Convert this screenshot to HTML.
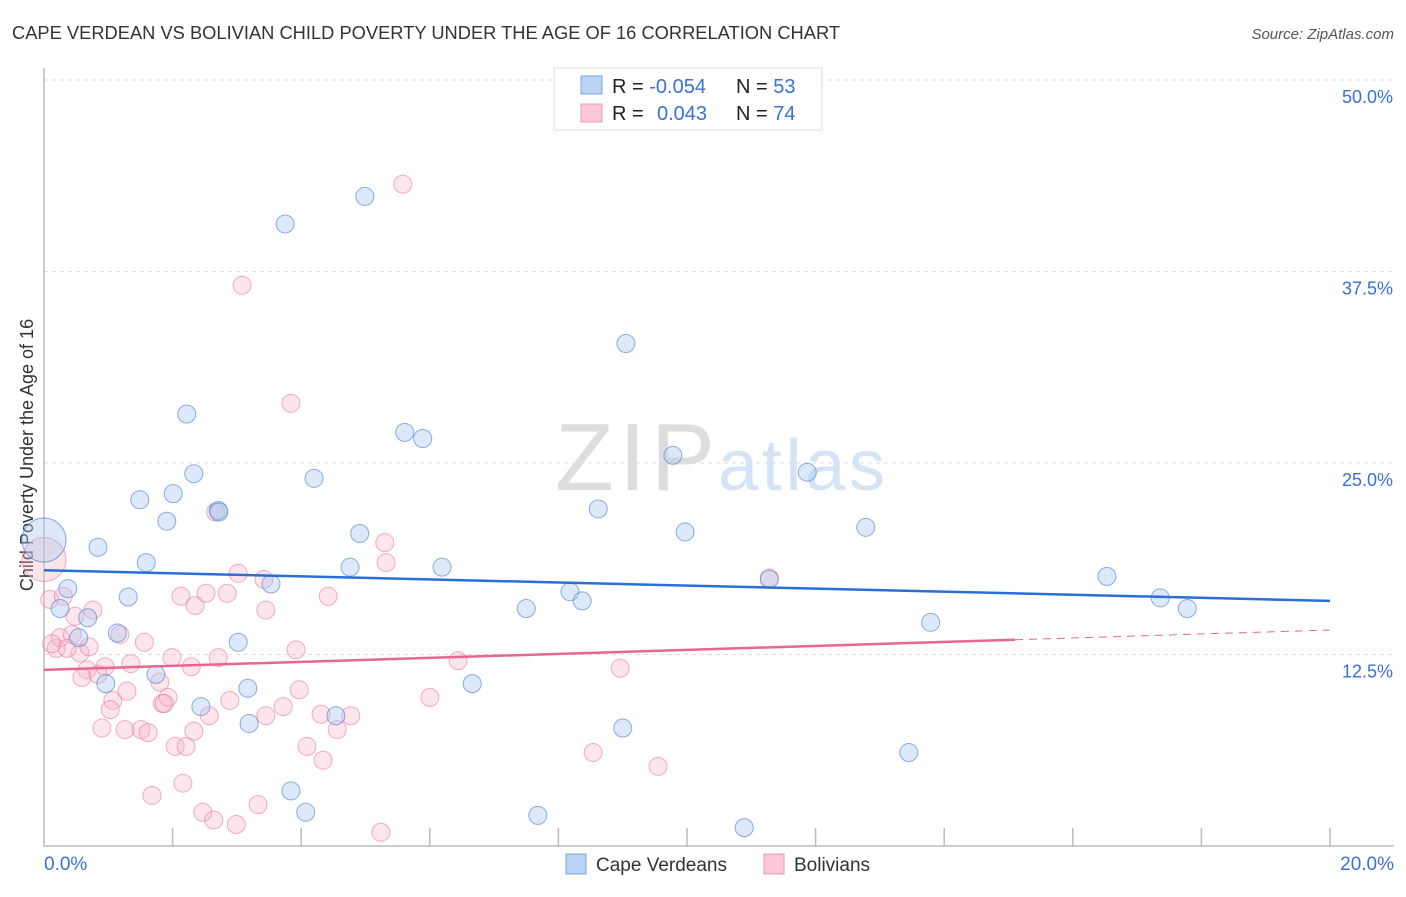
<!DOCTYPE html>
<html><head><meta charset="utf-8"><style>
body{margin:0;background:#fff;font-family:"Liberation Sans",sans-serif;}
svg text{font-family:"Liberation Sans",sans-serif;}
</style></head><body>
<svg id="c" width="1406" height="892">
<text x="12" y="39" font-size="18.3" fill="#333" textLength="828">CAPE VERDEAN VS BOLIVIAN CHILD POVERTY UNDER THE AGE OF 16 CORRELATION CHART</text>
<text x="1394" y="39" font-size="15" fill="#555" font-style="italic" text-anchor="end">Source: ZipAtlas.com</text>
<text x="555" y="490" font-size="96" fill="#ddd" font-family="Liberation Serif" textLength="160">ZIP</text>
<text x="718" y="490" font-size="72" fill="#d4e3f5" textLength="167">atlas</text>
<text transform="translate(33,455) rotate(-90)" font-size="18" fill="#333" text-anchor="middle">Child Poverty Under the Age of 16</text>
<g id="grid"></g><g id="marks"></g>
<g>
<rect x="554" y="68" width="268" height="62" fill="#fff" stroke="#ddd"/>
<rect x="581" y="76" width="21" height="18" fill="#b9d3f5" stroke="#7aa6e6"/>
<rect x="581" y="104" width="21" height="18" fill="#fbc9d8" stroke="#ee9ab5"/>
<text x="612" y="93" font-size="20" fill="#222">R = <tspan fill="#3a72d4">-0.054</tspan><tspan x="736">N = </tspan><tspan fill="#3a72d4">53</tspan></text>
<text x="612" y="120" font-size="20" fill="#222">R = <tspan x="657" fill="#3a72d4">0.043</tspan><tspan x="736">N = </tspan><tspan fill="#3a72d4">74</tspan></text>
</g>
<g>
<rect x="566" y="854" width="20" height="20" fill="#b9d3f5" stroke="#7aa6e6"/>
<text x="596" y="871" font-size="19" fill="#333">Cape Verdeans</text>
<rect x="764" y="854" width="20" height="20" fill="#fbc9d8" stroke="#ee9ab5"/>
<text x="794" y="871" font-size="19" fill="#333">Bolivians</text>
</g>
<text x="44" y="870" font-size="19" fill="#3a72d4">0.0%</text>
<text x="1394" y="870" font-size="19" fill="#3a72d4" text-anchor="end">20.0%</text>
</svg>
<script>
const blueX=[0,0.84,0.37,0.25,0.68,0.54,1.14,1.31,1.59,1.49,2.01,1.91,2.22,2.33,2.71,1.74,0.96,2.44,3.02,3.17,3.19,3.53,3.75,4.2,4.54,3.84,4.07,4.76,4.91,4.99,5.61,5.89,6.19,6.66,7.5,7.68,8.18,8.37,8.62,9.05,9.0,9.78,9.97,10.89,11.28,11.87,12.78,13.79,13.45,16.53,17.36,17.78,2.72];
const blueY=[19.97,19.5,16.8,15.5,14.9,13.6,13.9,16.25,18.5,22.6,23.0,21.2,28.2,24.3,21.9,11.2,10.6,9.1,13.3,10.3,8.0,17.1,40.6,24.0,8.5,3.6,2.2,18.2,20.4,42.4,27.0,26.6,18.2,10.6,15.5,2.0,16.6,16.0,22.0,32.8,7.7,25.5,20.5,1.2,17.4,24.4,20.8,14.6,6.1,17.6,16.2,15.5,21.8];
const pinkX=[0,0.09,0.19,0.25,0.44,0.56,0.36,0.3,0.48,0.76,0.7,0.67,0.59,0.95,0.84,1.18,1.07,1.03,1.29,1.56,1.35,0.9,1.26,1.51,1.62,1.8,1.84,1.93,1.99,2.13,2.35,2.29,2.52,2.85,2.71,3.02,3.42,3.45,3.92,3.45,2.89,2.57,2.33,2.04,2.21,3.72,3.97,4.31,4.56,4.77,4.09,4.34,1.68,2.16,2.47,2.64,2.99,3.33,5.24,4.42,5.3,5.32,3.08,3.84,5.58,6.0,6.44,8.54,8.96,9.55,11.28,1.87,2.67,0.12];
const pinkY=[18.7,16.1,12.9,13.6,13.8,12.6,12.9,16.3,15.0,15.4,13.0,11.5,11.0,11.7,11.2,13.8,9.5,8.9,10.1,13.3,11.9,7.7,7.6,7.6,7.4,10.7,9.3,9.7,12.3,16.3,15.7,11.7,16.5,16.5,12.3,17.8,17.4,15.4,12.8,8.5,9.5,8.5,7.5,6.5,6.5,9.1,10.2,8.6,7.6,8.5,6.5,5.6,3.3,4.1,2.2,1.7,1.4,2.7,0.9,16.3,19.8,18.5,36.6,28.9,43.2,9.7,12.1,6.1,11.6,5.2,17.5,9.3,21.8,13.2];
const blueTrend=[18.0,16.0];
const pinkTrend=[11.5,14.1];
const pinkSolidEnd=15.1;
const yTicks=[12.5,25,37.5,50];
const yTickLabels=["12.5%","25.0%","37.5%","50.0%"];
const xTicks=[2,4,6,8,10,12,14,16,18,20];
const NS="http://www.w3.org/2000/svg";
const X=v=>44+v*64.3, Y=v=>846-v*15.32;
const grid=document.getElementById('grid'), marks=document.getElementById('marks');
function mk(p,tag,a){const e=document.createElementNS(NS,tag);for(const k in a)e.setAttribute(k,a[k]);p.appendChild(e);return e;}
yTicks.forEach((t,i)=>{
 const l=mk(grid,'line',{x1:44,x2:1394,y1:Y(t),y2:Y(t),stroke:'#ddd','stroke-dasharray':'4,4'});
 
 
 const tx=mk(grid,'text',{x:1393,y:Y(t)+23,'font-size':18,fill:'#3a72d4','text-anchor':'end'});
 tx.textContent=yTickLabels[i];
 
 
});
const ax=mk(grid,'path',{d:'M44,68V846H1394',fill:'none',stroke:'#bbb','stroke-width':1.5});


xTicks.forEach(t=>{
 const l=mk(grid,'line',{x1:X(t),x2:X(t),y1:828,y2:846,stroke:'#bbb','stroke-width':1.5});
 
 
});
pinkX.forEach((x,i)=>{
 const c=mk(marks,'circle',{cx:X(x),cy:Y(pinkY[i]),r:i==0?22:9,fill:'rgba(248,180,200,0.35)',stroke:'rgba(232,120,160,0.6)','stroke-width':1});
 
 
});
blueX.forEach((x,i)=>{
 const c=mk(marks,'circle',{cx:X(x),cy:Y(blueY[i]),r:i==0?22:9,fill:'rgba(170,200,240,0.4)',stroke:'rgba(80,130,210,0.65)','stroke-width':1});
 
 
});
const bt=mk(marks,'line',{x1:X(0),y1:Y(blueTrend[0]),x2:X(20),y2:Y(blueTrend[1]),stroke:'#2a6fd6','stroke-width':2.5});


const py=v=>pinkTrend[0]+(pinkTrend[1]-pinkTrend[0])*v/20;
const pt=mk(marks,'line',{x1:X(0),y1:Y(py(0)),x2:X(pinkSolidEnd),y2:Y(py(pinkSolidEnd)),stroke:'#e8668f','stroke-width':2.5});


const pd=mk(marks,'line',{x1:X(pinkSolidEnd),y1:Y(py(pinkSolidEnd)),x2:X(20),y2:Y(py(20)),stroke:'#e8668f','stroke-width':1,'stroke-dasharray':'8,6'});


</script>
</body></html>
